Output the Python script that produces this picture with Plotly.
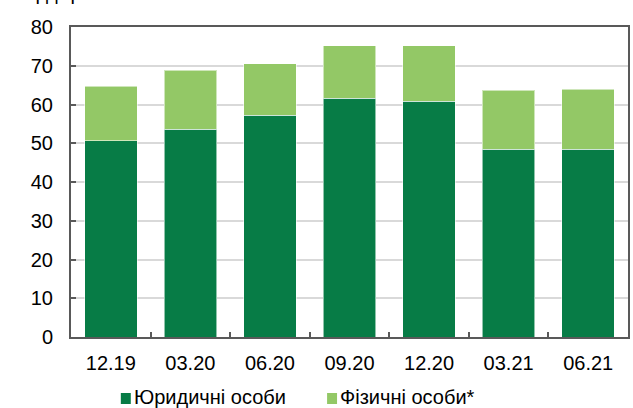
import plotly.graph_objects as go

# Quarter-end dates
periods = ["12.19", "03.20", "06.20", "09.20", "12.20", "03.21", "06.21"]

# Values by borrower type, bn UAH
legal_entities = [50.6, 53.6, 57.2, 61.6, 60.9, 48.4, 48.5]
individuals = [14.1, 15.2, 13.3, 13.6, 14.3, 15.3, 15.5]

series_names = ["Юридичні особи", "Фізичні особи*"]
unit_label = "млрд грн"

DARK = "#077C46"
LIGHT = "#93C866"
AXIS = "#595959"
FONT = "Liberation Sans, Arial, sans-serif"
FS = 20

W, H = 633, 408
L, R, T, B = 71, 3, 27, 71
PW, PH = W - L - R, H - T - B


def px_x(px):
    return (px - L) / PW


def px_y(py):
    return (H - B - py) / PH


fig = go.Figure()
fig.add_trace(go.Bar(x=periods, y=legal_entities, name=series_names[0],
                     marker=dict(color=DARK, line=dict(color="rgba(255,255,255,0.55)", width=1))))
fig.add_trace(go.Bar(x=periods, y=individuals, name=series_names[1],
                     marker=dict(color=LIGHT, line=dict(color="rgba(255,255,255,0.55)", width=1))))

fig.update_layout(
    width=W, height=H,
    margin=dict(l=L, r=R, t=T, b=B),
    barmode="stack",
    bargap=0.34,
    showlegend=False,
    plot_bgcolor="white",
    paper_bgcolor="white",
    font=dict(family=FONT, size=FS, color="#000000"),
)

fig.update_yaxes(
    range=[0, 80], dtick=10,
    showgrid=True, gridcolor="#D9D9D9", gridwidth=1.5,
    showline=True, linecolor=AXIS, linewidth=2, mirror=True,
    ticks="inside", ticklen=5, tickcolor=AXIS, tickwidth=1.5,
    ticklabelstandoff=12,
    zeroline=False,
)
fig.update_xaxes(
    showline=True, linecolor=AXIS, linewidth=2, mirror=True,
    ticks="inside", tickson="boundaries", ticklen=5, tickcolor=AXIS, tickwidth=1.5,
    ticklabelstandoff=7,
    showgrid=False,
)

# Unit label above the axis (partly outside the page)
fig.add_annotation(text=unit_label, xref="paper", yref="paper",
                   x=px_x(8), y=px_y(6), xanchor="left", yanchor="bottom",
                   showarrow=False, font=dict(size=FS))

# Legend drawn as swatches with captions
legend_items = [(series_names[0], DARK, 121), (series_names[1], LIGHT, 328)]
for name, color, x0 in legend_items:
    fig.add_shape(type="rect", xref="paper", yref="paper",
                  x0=px_x(x0), x1=px_x(x0 + 10), y0=px_y(404), y1=px_y(393),
                  fillcolor=color, line=dict(width=0))
    fig.add_annotation(text=name, xref="paper", yref="paper",
                       x=px_x(x0 + 11), y=px_y(397), xanchor="left", yanchor="middle",
                       showarrow=False, font=dict(size=FS))

fig.write_html("out.html")
